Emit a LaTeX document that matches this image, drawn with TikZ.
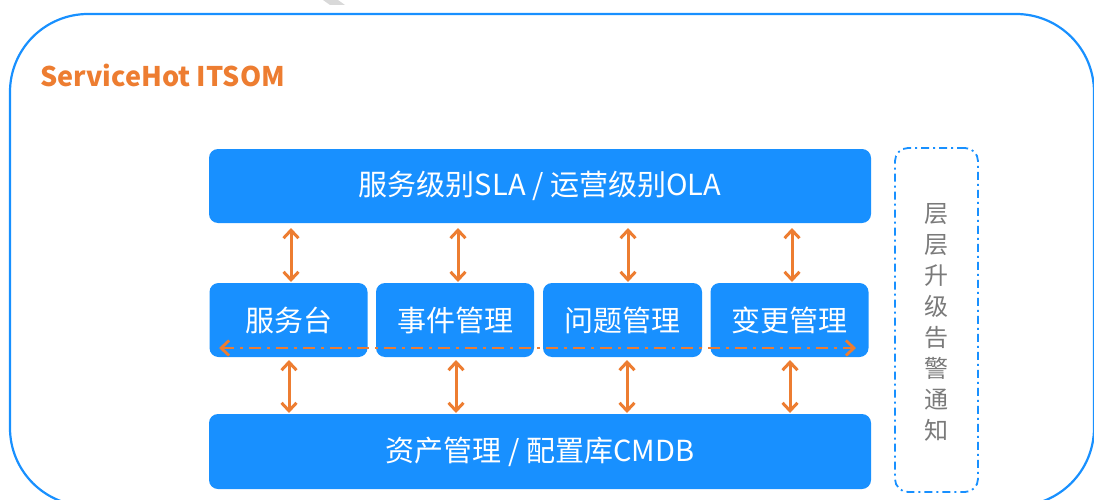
\documentclass[tikz,border=0pt]{standalone}
\usepackage{fontspec}
\setmainfont{Noto Sans CJK SC}
\usetikzlibrary{arrows.meta}
\definecolor{ablue}{HTML}{1890FF}
\definecolor{aorange}{HTML}{ED7D31}
\definecolor{agray}{HTML}{7A7A7A}
\tikzset{
  bluebox/.style={fill=ablue, rounded corners=9pt, inner sep=0pt, text=white, font=\fontsize{29}{32}\selectfont},
  varrow/.style={draw=aorange, line width=3pt, {Straight Barb[length=8pt,width=15pt]}-{Straight Barb[length=8pt,width=15pt]}},
  harrow/.style={draw=aorange, line width=2.8pt, dash pattern=on 12pt off 6pt on 3pt off 6pt, {Straight Barb[length=8pt,width=15pt]}-{Straight Barb[length=8pt,width=15pt]}},
}
\begin{document}
\begin{tikzpicture}[x=1pt,y=-1pt]
\useasboundingbox (0,0) rectangle (1094,500);
\begin{scope}
\clip (0,0) rectangle (1094,500);
\fill[black!15] (323,0) -- (338,0) -- (345,5) -- (330,5) -- cycle;
\draw[ablue, line width=2.2pt, rounded corners=78pt] (10,14) rectangle (1094,506);
\end{scope}
\node[text=aorange, font=\fontsize{27}{30}\selectfont\bfseries, anchor=west] (title) at (37,75) {ServiceHot ITSOM};
% top box
\node[bluebox, minimum width=662pt, minimum height=74pt] (sla) at (540,186) {服务级别SLA / 运营级别OLA};
% middle boxes
\node[bluebox, minimum width=158pt, minimum height=74pt] (fwt) at (288.5,320) {服务台};
\node[bluebox, minimum width=158pt, minimum height=74pt] (sj) at (455,320) {事件管理};
\node[bluebox, minimum width=159pt, minimum height=74pt] (wt) at (622.5,320) {问题管理};
\node[bluebox, minimum width=158pt, minimum height=74pt] (bg) at (789.5,320) {变更管理};
% bottom box
\node[bluebox, minimum width=662pt, minimum height=75pt] (cmdb) at (540,451.5) {资产管理 / 配置库CMDB};
% side dashed box
\node[draw=ablue, line width=1.8pt, dash pattern=on 8pt off 4pt on 2pt off 4pt, rounded corners=13pt, minimum width=83pt, minimum height=344pt, inner sep=0pt] (side) at (936.5,320) {};
\node[text=agray, font=\fontsize{24}{31}\selectfont, align=center] (sidetxt) at (936,322) {层\\层\\升\\级\\告\\警\\通\\知};
% vertical arrows
\coordinate (t1) at (291,228); \coordinate (m1a) at (291,282);
\coordinate (t2) at (458,228); \coordinate (m2a) at (458,282);
\coordinate (t3) at (628,228); \coordinate (m3a) at (628,282);
\coordinate (t4) at (792,228); \coordinate (m4a) at (792,282);
\draw[varrow] (t1) -- (m1a);
\draw[varrow] (t2) -- (m2a);
\draw[varrow] (t3) -- (m3a);
\draw[varrow] (t4) -- (m4a);
\coordinate (m1b) at (289,360); \coordinate (b1) at (289,413);
\coordinate (m2b) at (456,360); \coordinate (b2) at (456,413);
\coordinate (m3b) at (627,360); \coordinate (b3) at (627,413);
\coordinate (m4b) at (790,360); \coordinate (b4) at (790,413);
\draw[varrow] (m1b) -- (b1);
\draw[varrow] (m2b) -- (b2);
\draw[varrow] (m3b) -- (b3);
\draw[varrow] (m4b) -- (b4);
% horizontal dash-dot arrow
\coordinate (hl) at (219,348);
\coordinate (hr) at (856,348);
\draw[harrow] (hl) -- (hr);
\end{tikzpicture}
\end{document}
